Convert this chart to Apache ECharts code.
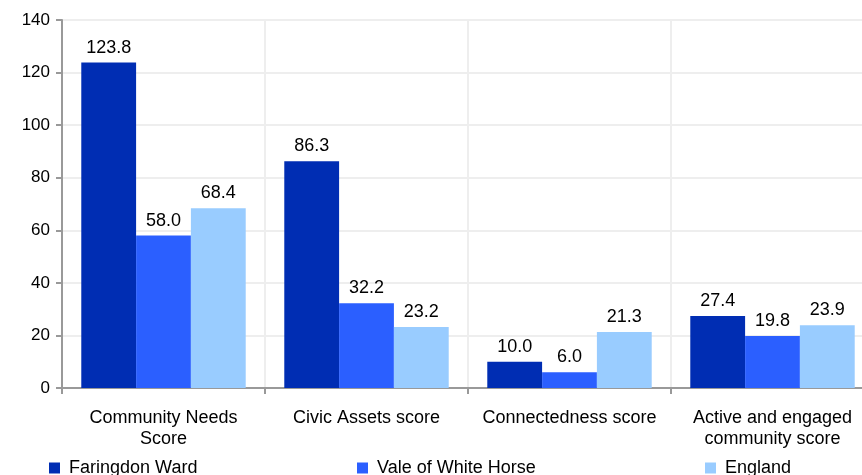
<!DOCTYPE html>
<html>
<head>
<meta charset="utf-8">
<script src="https://cdn.jsdelivr.net/npm/echarts@6/dist/echarts.min.js"></script>
<style>
  html, body { margin: 0; padding: 0; background: #fff; }
  #chart { width: 862px; height: 475px; }
</style>
</head>
<body>
<div id="chart"></div>
<script>
var categories = ['Community Needs\nScore', 'Civic Assets score', 'Connectedness score', 'Active and engaged\ncommunity score'];
var faringdon = [123.8, 86.3, 10.0, 27.4];
var vale = [58.0, 32.2, 6.0, 19.8];
var england = [68.4, 23.2, 21.3, 23.9];
var yTicks = [0, 20, 40, 60, 80, 100, 120, 140];

var font = 'Liberation Sans, Arial, sans-serif';

function barSeries(name, data, color) {
    return {
        name: name,
        type: 'bar',
        data: data,
        barGap: 0,
        barCategoryGap: '19%',
        itemStyle: { color: color },
        label: {
            show: true,
            position: 'top',
            distance: 6,
            color: '#000',
            fontSize: 18,
            fontFamily: font,
            formatter: function (p) { return p.value.toFixed(1); }
        }
    };
}

function legendItem(name, left) {
    return {
        data: [name],
        left: left,
        top: 459,
        padding: 0,
        icon: 'rect',
        itemWidth: 11,
        itemHeight: 11,
        itemGap: 0,
        textStyle: { fontSize: 18, fontFamily: font, color: '#000', padding: [0, 0, 0, 4] }
    };
}

var chart = echarts.init(document.getElementById('chart'));
chart.setOption({
    animation: false,
    grid: { left: 62, width: 812, top: 20, bottom: 87, containLabel: false, outerBoundsMode: 'none' },
    legend: [
        legendItem('Faringdon Ward', 49),
        legendItem('Vale of White Horse', 357),
        legendItem('England', 705)
    ],
    xAxis: {
        type: 'category',
        data: categories,
        axisLine: { lineStyle: { color: '#999', width: 2 } },
        axisTick: { show: true, length: 6, lineStyle: { color: '#999', width: 2 } },
        splitLine: { show: true, lineStyle: { color: '#eee', width: 2 } },
        axisLabel: {
            color: '#000', fontSize: 18, fontFamily: font,
            margin: 20, lineHeight: 21, interval: 0
        }
    },
    yAxis: {
        type: 'value',
        min: yTicks[0],
        max: yTicks[yTicks.length - 1],
        interval: 20,
        axisLine: { show: true, lineStyle: { color: '#999', width: 2 } },
        axisTick: { show: true, length: 6, lineStyle: { color: '#999', width: 2 } },
        splitLine: { lineStyle: { color: '#eee', width: 2 } },
        axisLabel: { color: '#000', fontSize: 17, fontFamily: font, margin: 12 }
    },
    series: [
        barSeries('Faringdon Ward', faringdon, '#002db3'),
        barSeries('Vale of White Horse', vale, '#2b5fff'),
        barSeries('England', england, '#99ccff')
    ]
});
</script>
</body>
</html>
